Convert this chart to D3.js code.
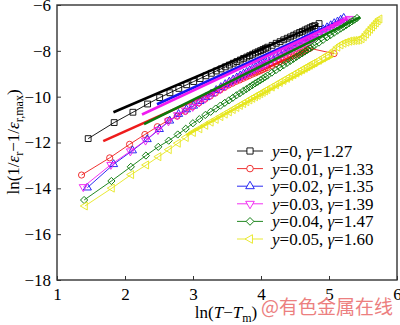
<!DOCTYPE html>
<html>
<head>
<meta charset="utf-8">
<script src="https://cdn.jsdelivr.net/npm/d3@7"></script>
<style>
  body { margin: 0; background: #fff; }
  text { font-family: "Liberation Serif", "Times New Roman", serif; fill: #000; }
</style>
</head>
<body>
<svg id="chart" width="400" height="325"></svg>
<script>
// Temperature rise above the first measuring point, K
const tempRise = [0,2,4,6,8,10,12,14,16,18,20,22,24,26,28,30,32,34,36,38,40,42,44,46,48,50,52,54,56,
  60,64,68,72,76,80,84,88,92,96,100,104,108,112,116,
  124,132,140,148,156,164,172,180,188,196,204,212,220,228,236,244,252,260,268,276,284,292,300,308];

// Series labels
const seriesY = ["0", "0.01", "0.02", "0.03", "0.04", "0.05"];
const gammas = [1.27, 1.33, 1.35, 1.39, 1.47, 1.60];
// First measuring temperature minus T_m, K
const startGap = [4.3, 3.9, 4.25, 4.0, 4.05, 4.1];

// ln(1/εr − 1/εr,max) for each composition (null = not recorded)
const yY0 = [-11.83,-11.13,-10.68,-10.32,-10.04,-9.83,-9.64,-9.48,-9.34,-9.21,-9.09,-8.98,-8.88,-8.79,-8.70,-8.62,-8.54,-8.47,-8.40,-8.33,-8.27,-8.21,-8.15,-8.09,-8.04,-7.99,-7.94,-7.89,-7.84,
  -7.76,-7.67,-7.60,-7.52,-7.45,-7.39,-7.32,-7.26,-7.20,-7.15,-7.09,-7.04,-6.99,-6.94,-6.90,-6.81];
const yY001 = [-13.42,-12.67,-12.08,-11.65,-11.31,-11.04,-10.85,-10.64,-10.44,-10.27,-10.11,-9.97,-9.84,-9.71,-9.60,-9.49,-9.41,-9.33,-9.27,-9.20,-9.14,-9.08,-9.02,-8.97,-8.92,-8.87,-8.82,-8.77,-8.73,
  -8.64,-8.56,-8.48,-8.41,-8.34,-8.28,-8.22,-8.16,-8.10,-8.05,-7.99,-7.94,-7.89,null,null,null,null,null,null,-8.12];
const yY002 = [-13.97,-12.95,-12.35,-11.86,-11.42,-11.05,-10.76,-10.56,-10.40,-10.20,-10.03,-9.87,-9.72,-9.59,-9.46,-9.35,
  -9.26,-9.17,-9.08,-9.00,-8.93,-8.86,-8.79,-8.72,-8.65,-8.59,-8.53,-8.47,-8.42,
  -8.31,-8.21,-8.12,-8.03,-7.95,-7.87,-7.79,-7.72,-7.65,-7.58,-7.51,-7.45,-7.39,-7.33,-7.28,
  -7.17,-7.07,-6.98,-6.89,-6.80,-6.73,-6.65,-6.57];
const yY003 = [-13.94,-12.97,-12.38,-11.91,-11.45,-11.07,-10.80,-10.60,-10.44,-10.25,-10.08,-9.93,-9.79,-9.66,-9.54,-9.43,
  -9.34,-9.25,-9.17,-9.09,-9.02,-8.95,-8.88,-8.81,-8.75,-8.69,-8.63,-8.58,-8.52,
  -8.42,-8.32,-8.23,-8.14,-8.06,-7.98,-7.91,-7.84,-7.77,-7.70,-7.64,-7.58,-7.52,-7.47,-7.41,
  -7.31,-7.21,-7.12,-7.03,-6.95,-6.87,-6.80,-6.73,-6.66,-6.60];
const yY004 = [-14.51,-13.68,-13.06,-12.57,-12.19,-11.92,-11.65,-11.40,-11.16,-10.98,-10.80,-10.66,-10.52,-10.39,-10.27,
  -10.16,-10.05,-9.94,-9.85,-9.75,-9.67,-9.58,-9.50,-9.42,-9.35,-9.28,-9.21,-9.14,-9.08,
  -8.95,-8.84,-8.73,-8.63,-8.53,-8.44,-8.35,-8.26,-8.18,-8.11,-8.03,-7.96,-7.89,-7.82,-7.76,
  -7.64,-7.52,-7.41,-7.31,-7.21,-7.12,-7.03,-6.95,-6.87,-6.79,-6.71,-6.64,-6.57];
const yY005 = [-14.77,-13.99,-13.40,-12.98,-12.62,-12.31,-12.03,-11.78,-11.56,
  -11.40,-11.25,-11.11,-10.99,-10.87,-10.76,-10.66,-10.56,-10.47,-10.38,-10.30,-10.22,-10.14,-10.07,-10.00,-9.94,-9.87,-9.81,-9.75,-9.69,
  -9.58,-9.48,-9.38,-9.29,-9.20,-9.12,-9.04,-8.97,-8.89,-8.82,-8.76,-8.69,-8.63,-8.57,-8.52,
  -8.41,-8.30,-8.20,-8.11,
  -7.98,-7.84,-7.74,-7.67,-7.62,-7.58,-7.56,-7.55,-7.54,-7.52,-7.47,-7.38,-7.27,-7.16,-7.06,-6.96,-6.87,-6.78,-6.69,-6.61];
const seriesValues = [yY0, yY001, yY002, yY003, yY004, yY005];

// Linear fits: slope = γ, start point and end abscissa
const fitX0 = [1.83, 1.68, 2.47, 2.25, 2.28, 2.90];
const fitY0 = [-10.68, -11.94, -10.33, -10.78, -11.20, -11.68];
const fitX1 = [4.84, 4.70, 5.20, 5.27, 5.46, 5.05];

const xTicks = [1, 2, 3, 4, 5, 6];
const yTicks = [-18, -16, -14, -12, -10, -8, -6];

const colors = ["#000000", "#ee1c1c", "#1414f0", "#f01af0", "#0a7a0a", "#e6e61e"];
const symbolTypes = [d3.symbolSquare, d3.symbolCircle, d3.symbolTriangle, d3.symbolTriangle, d3.symbolSquare, d3.symbolTriangle];
const symbolRotate = [0, 0, 0, 180, 45, -90];
const symbolSizes = [34, 30, 28, 28, 26, 28];

const svg = d3.select("#chart");
const margin = { left: 57, right: 3, top: 5, bottom: 45 };
const W = 400, H = 325;

const x = d3.scaleLinear().domain([1, 6]).range([margin.left, W - margin.right]);
const y = d3.scaleLinear().domain([-18, -6]).range([H - margin.bottom, margin.top]);

svg.append("defs").append("clipPath").attr("id", "plotClip")
  .append("rect")
  .attr("x", x(1)).attr("y", y(-6))
  .attr("width", x(6) - x(1)).attr("height", y(-18) - y(-6));

const plot = svg.append("g").attr("clip-path", "url(#plotClip)");

const line = d3.line().x(d => x(d[0])).y(d => y(d[1]));

seriesValues.forEach((vals, s) => {
  const pts = vals
    .map((v, i) => [Math.log(startGap[s] + tempRise[i]), v])
    .filter(d => d[1] !== null);
  const g = plot.append("g");
  g.append("path")
    .attr("d", line(pts))
    .attr("fill", "none")
    .attr("stroke", colors[s])
    .attr("stroke-width", 0.9);
  const sym = d3.symbol().type(symbolTypes[s]).size(symbolSizes[s]);
  g.selectAll("path.m").data(pts).join("path")
    .attr("class", "m")
    .attr("d", sym)
    .attr("transform", d => `translate(${x(d[0])},${y(d[1])}) rotate(${symbolRotate[s]})`)
    .attr("fill", "none")
    .attr("stroke", colors[s])
    .attr("stroke-width", 0.9);
  const fit = [[fitX0[s], fitY0[s]], [fitX1[s], fitY0[s] + gammas[s] * (fitX1[s] - fitX0[s])]];
  g.append("path")
    .attr("d", line(fit))
    .attr("fill", "none")
    .attr("stroke", colors[s])
    .attr("stroke-width", 2.6);
});

// Axes
const fmt = d3.format("d");
svg.append("g")
  .attr("transform", `translate(0,${y(-18)})`)
  .call(d3.axisBottom(x).tickValues(xTicks).tickFormat(fmt).tickSizeInner(-4).tickSizeOuter(0).tickPadding(8))
  .call(g => g.select(".domain").remove())
  .call(g => g.selectAll("line").attr("stroke", "#333"))
  .call(g => g.selectAll("text").attr("font-size", 17).attr("font-family", "Liberation Serif, serif").attr("fill", "#000"));

svg.append("g")
  .attr("transform", `translate(${x(1)},0)`)
  .call(d3.axisLeft(y).tickValues(yTicks).tickFormat(fmt).tickSizeInner(-4).tickSizeOuter(0).tickPadding(6))
  .call(g => g.select(".domain").remove())
  .call(g => g.selectAll("line").attr("stroke", "#333"))
  .call(g => g.selectAll("text").attr("font-size", 17).attr("font-family", "Liberation Serif, serif").attr("fill", "#000"));

svg.append("rect")
  .attr("x", x(1)).attr("y", y(-6))
  .attr("width", x(6) - x(1)).attr("height", y(-18) - y(-6))
  .attr("fill", "none").attr("stroke", "#333").attr("stroke-width", 1.4);

// Legend
const legend = svg.append("g");
seriesY.forEach((lab, s) => {
  const ly = 151 + s * 17.6;
  const row = legend.append("g");
  row.append("line").attr("x1", 237).attr("x2", 263).attr("y1", ly).attr("y2", ly)
    .attr("stroke", colors[s]).attr("stroke-width", 0.9);
  row.append("path")
    .attr("d", d3.symbol().type(symbolTypes[s]).size(symbolSizes[s] + 4)())
    .attr("transform", `translate(250,${ly}) rotate(${symbolRotate[s]})`)
    .attr("fill", "#fff").attr("stroke", colors[s]).attr("stroke-width", 0.9);
  const t = row.append("text").attr("x", 272).attr("y", ly + 6).attr("font-size", 17);
  t.append("tspan").attr("font-style", "italic").text("y");
  t.append("tspan").text("=" + lab + ", ");
  t.append("tspan").attr("font-style", "italic").text("γ");
  t.append("tspan").text("=" + gammas[s].toFixed(2));
});

// Axis titles
const xt = svg.append("text").attr("x", 226).attr("y", 318).attr("text-anchor", "middle").attr("font-size", 17);
xt.append("tspan").text("ln(");
xt.append("tspan").attr("font-style", "italic").text("T");
xt.append("tspan").text("−");
xt.append("tspan").attr("font-style", "italic").text("T");
xt.append("tspan").attr("font-size", 12).attr("dy", 4).text("m");
xt.append("tspan").attr("dy", -4).text(")");

const yt = svg.append("text")
  .attr("transform", "translate(19,142) rotate(-90)")
  .attr("text-anchor", "middle").attr("font-size", 17);
yt.append("tspan").text("ln(1/");
yt.append("tspan").attr("font-style", "italic").text("ε");
yt.append("tspan").attr("font-size", 12).attr("dy", 4).text("r");
yt.append("tspan").attr("dy", -4).text("−1/");
yt.append("tspan").attr("font-style", "italic").text("ε");
yt.append("tspan").attr("font-size", 12).attr("dy", 4).text("r,max");
yt.append("tspan").attr("dy", -4).text(")");

// Source mark
svg.append("text")
  .attr("x", 261).attr("y", 314)
  .attr("font-size", 19)
  .style("font-family", "'Noto Sans CJK SC', sans-serif")
  .style("fill", "#ec7f7f")
  .text("@有色金属在线");
</script>
</body>
</html>
